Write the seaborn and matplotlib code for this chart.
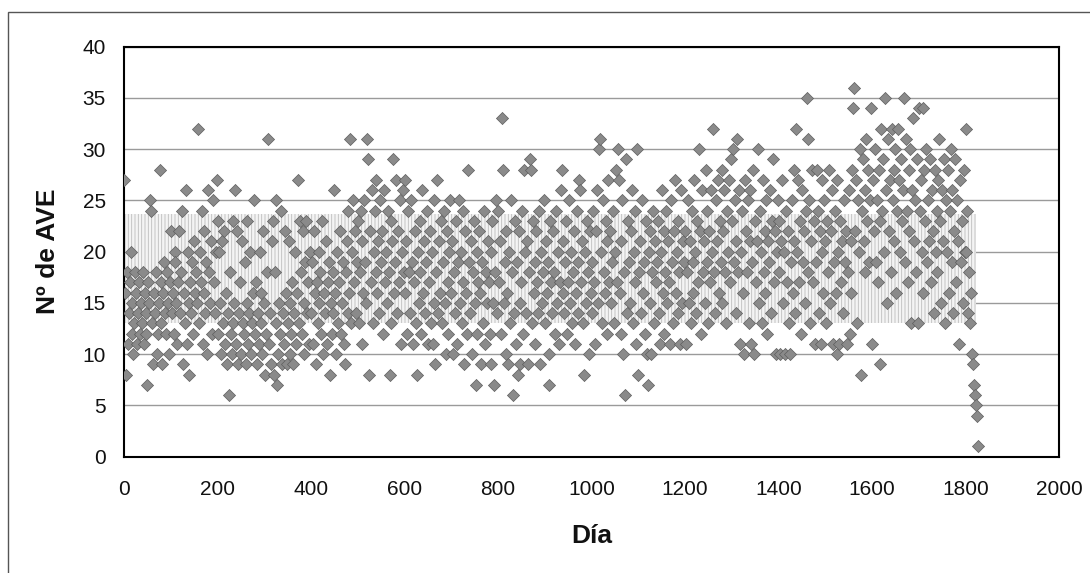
import matplotlib
matplotlib.use("Agg")
import matplotlib.pyplot as plt
import numpy as np
import pandas as pd
import seaborn as sns

# daily AVE counts at two-day spacing (days 0..1826)
ave_0000 = [27, 16, 8, 18, 11, 14, 17, 20, 12, 15,
            10, 13, 18, 16, 11, 14, 17, 12, 15, 13,
            18, 11, 16, 14, 12, 7, 17, 15, 25, 24,
            13, 9, 16, 14, 18, 10, 12, 15, 28, 17,
            13, 9, 16, 19, 14, 12, 18, 15, 10, 17,
            22, 14, 16, 12, 20, 19, 15, 11, 17, 22,
            14, 18, 24, 9, 16, 13, 26, 11, 20, 15,
            8, 17, 14, 19, 12, 21, 16, 18, 15, 32,
            13, 20, 17, 24, 11, 22, 16, 14, 19, 10,
            26, 18, 15, 21, 12, 25, 17, 14, 20, 27]
ave_0200 = [23, 12, 20, 15, 10, 21, 13, 22, 11, 16,
            9, 14, 6, 18, 12, 10, 23, 13, 15, 26,
            11, 22, 9, 14, 17, 10, 21, 13, 12, 19,
            9, 15, 23, 11, 14, 20, 10, 13, 16, 25,
            12, 17, 9, 14, 11, 20, 13, 16, 10, 22,
            15, 8, 12, 18, 31, 11, 14, 9, 21, 23,
            8, 18, 13, 25, 7, 10, 15, 12, 24, 9,
            14, 11, 22, 16, 9, 13, 21, 10, 15, 12,
            17, 9, 14, 20, 11, 16, 27, 13, 23, 18,
            12, 22, 15, 10, 19, 23, 14, 17, 11, 20]
ave_0400 = [14, 19, 11, 22, 16, 9, 17, 13, 20, 15,
            18, 12, 23, 10, 16, 14, 21, 11, 17, 19,
            8, 15, 12, 18, 14, 26, 16, 10, 20, 13,
            17, 22, 12, 15, 19, 11, 9, 18, 21, 14,
            24, 16, 31, 13, 20, 25, 17, 22, 14, 19,
            23, 13, 18, 24, 11, 21, 16, 25, 19, 15,
            31, 29, 8, 22, 17, 26, 13, 20, 24, 18,
            27, 16, 21, 14, 25, 19, 22, 12, 26, 17,
            20, 15, 24, 18, 8, 23, 13, 21, 29, 16,
            19, 27, 14, 22, 17, 25, 11, 20, 26, 18]
ave_0600 = [27, 16, 21, 12, 24, 18, 14, 25, 19, 11,
            17, 22, 13, 8, 20, 15, 23, 18, 12, 26,
            16, 21, 14, 19, 24, 11, 17, 22, 13, 20,
            11, 15, 25, 9, 18, 27, 14, 21, 16, 23,
            13, 19, 24, 15, 10, 22, 17, 12, 20, 25,
            16, 21, 10, 18, 14, 23, 11, 19, 25, 15,
            20, 13, 17, 24, 9, 22, 16, 12, 28, 19,
            14, 21, 10, 18, 23, 15, 7, 20, 12, 17,
            22, 16, 9, 19, 13, 24, 11, 18, 15, 21,
            17, 12, 20, 9, 23, 15, 7, 18, 25, 14]
ave_0800 = [24, 17, 21, 12, 33, 28, 15, 19, 10, 22,
            16, 9, 20, 13, 25, 18, 6, 14, 23, 11,
            19, 8, 22, 15, 9, 17, 24, 12, 28, 20,
            14, 21, 9, 18, 29, 28, 13, 23, 16, 19,
            11, 22, 17, 14, 24, 9, 20, 15, 18, 25,
            13, 21, 16, 19, 10, 7, 23, 17, 14, 22,
            18, 12, 24, 15, 20, 11, 17, 26, 28, 16,
            21, 14, 19, 23, 12, 17, 25, 15, 20, 13,
            18, 22, 11, 16, 24, 14, 19, 27, 26, 17,
            21, 13, 8, 20, 15, 23, 18, 10, 22, 16]
ave_1000 = [19, 14, 24, 17, 11, 22, 26, 15, 30, 31,
            20, 13, 25, 18, 16, 23, 12, 21, 27, 17,
            22, 15, 19, 24, 13, 20, 28, 17, 30, 27,
            16, 21, 12, 25, 10, 18, 6, 29, 14, 23,
            19, 15, 22, 26, 13, 20, 17, 24, 11, 30,
            8, 18, 21, 14, 25, 16, 19, 12, 23, 10,
            7, 20, 15, 22, 10, 18, 24, 13, 21, 17,
            19, 23, 14, 11, 20, 26, 16, 22, 12, 18,
            24, 15, 21, 17, 11, 25, 19, 13, 22, 27,
            16, 20, 14, 23, 18, 11, 26, 15, 21, 19]
ave_1200 = [22, 11, 18, 25, 15, 21, 13, 24, 19, 16,
            27, 20, 14, 23, 17, 30, 22, 12, 26, 18,
            21, 15, 28, 19, 24, 13, 22, 17, 26, 20,
            32, 18, 14, 25, 21, 27, 16, 23, 19, 28,
            15, 22, 26, 18, 13, 24, 20, 27, 17, 29,
            23, 30, 19, 25, 14, 21, 31, 18, 26, 11,
            20, 24, 16, 10, 27, 22, 18, 25, 13, 21,
            26, 11, 19, 28, 10, 23, 17, 21, 30, 15,
            24, 20, 13, 27, 18, 22, 16, 25, 12, 21,
            19, 26, 14, 23, 29, 17, 22, 10, 20, 25]
ave_1400 = [18, 23, 10, 21, 27, 15, 20, 10, 24, 17,
            22, 13, 10, 19, 25, 16, 28, 21, 14, 32,
            20, 27, 17, 23, 12, 26, 19, 22, 15, 24,
            35, 31, 18, 25, 13, 21, 28, 17, 23, 11,
            19, 28, 24, 14, 22, 11, 27, 20, 16, 25,
            21, 13, 23, 18, 28, 15, 22, 26, 11, 19,
            24, 16, 10, 27, 20, 11, 23, 17, 21, 14,
            25, 19, 22, 11, 18, 26, 12, 21, 16, 28,
            34, 36, 22, 27, 13, 25, 20, 30, 8, 24,
            29, 21, 26, 18, 31, 23, 28, 19, 25, 34]
ave_1600 = [11, 27, 22, 30, 19, 25, 17, 28, 23, 9,
            32, 24, 29, 20, 35, 26, 15, 31, 22, 27,
            18, 32, 25, 28, 21, 30, 16, 24, 32, 27,
            20, 29, 23, 26, 35, 19, 31, 24, 17, 28,
            22, 30, 13, 26, 33, 21, 25, 18, 29, 13,
            34, 24, 27, 20, 34, 16, 28, 23, 30, 19,
            25, 21, 29, 17, 26, 22, 14, 28, 20, 24,
            18, 27, 31, 23, 15, 26, 21, 29, 13, 25,
            20, 28, 16, 24, 30, 19, 26, 14, 22, 29,
            17, 25, 21, 11, 27, 19, 23, 15, 28, 20]
ave_1800 = [32, 20, 24, 14, 18, 13, 16, 10, 9, 7, 6, 5, 4, 1]

# shaded reference band behind the points
band_low, band_high = 13, 23.7
band_days = [0, 1822]

ave = ave_0000 + ave_0200 + ave_0400 + ave_0600 + ave_0800 + ave_1000 + ave_1200 + ave_1400 + ave_1600 + ave_1800
df = pd.DataFrame({"dia": np.arange(0, 2 * len(ave), 2), "ave": ave})

sns.set_theme(style="white")
plt.rcParams["font.family"] = ["Liberation Sans", "DejaVu Sans"]
plt.rcParams["hatch.linewidth"] = 0.6

fig = plt.figure(figsize=(10.9, 5.73), dpi=100)
ax = fig.add_axes([0.1138, 0.203, 0.8578, 0.7155])

ax.fill_between(band_days, band_low, band_high, facecolor="#f4f4f4",
                edgecolor="#bdbdbd", hatch="|||||", linewidth=0, zorder=1)
sns.scatterplot(data=df, x="dia", y="ave", marker="D", s=38, color="#8a8a8a",
                edgecolor="#5e5e5e", linewidth=0.5, ax=ax, zorder=3, legend=False)

ax.set_xlim(0, 2000)
ax.set_ylim(0, 40)
ax.set_xticks(range(0, 2001, 200))
ax.set_yticks(range(0, 41, 5))
ax.yaxis.grid(True, color="#9a9a9a", linewidth=1.0, zorder=0)
ax.set_axisbelow(True)
for s in ax.spines.values():
    s.set_color("black")
    s.set_linewidth(1.5)
ax.tick_params(axis="both", direction="out", length=5, width=1, color="black",
               labelsize=15, labelcolor="#111111")
ax.tick_params(axis="x", pad=12)
ax.tick_params(axis="y", pad=8)

ax.set_xlabel("Día", fontsize=19, fontweight="bold", color="#111111")
ax.set_ylabel("Nº de AVE", fontsize=19, fontweight="bold", color="#111111")
ax.xaxis.set_label_coords(0.5, -0.165)
ax.yaxis.set_label_coords(-0.068, 0.5)

# outer chart-area frame (only left/top edges fall inside the scan)
fig.add_artist(plt.Rectangle((0.0075, -0.05), 1.1, 1.029, transform=fig.transFigure,
                             fill=False, edgecolor="#555555", linewidth=1.0))

fig.savefig("out.png", dpi=100)
